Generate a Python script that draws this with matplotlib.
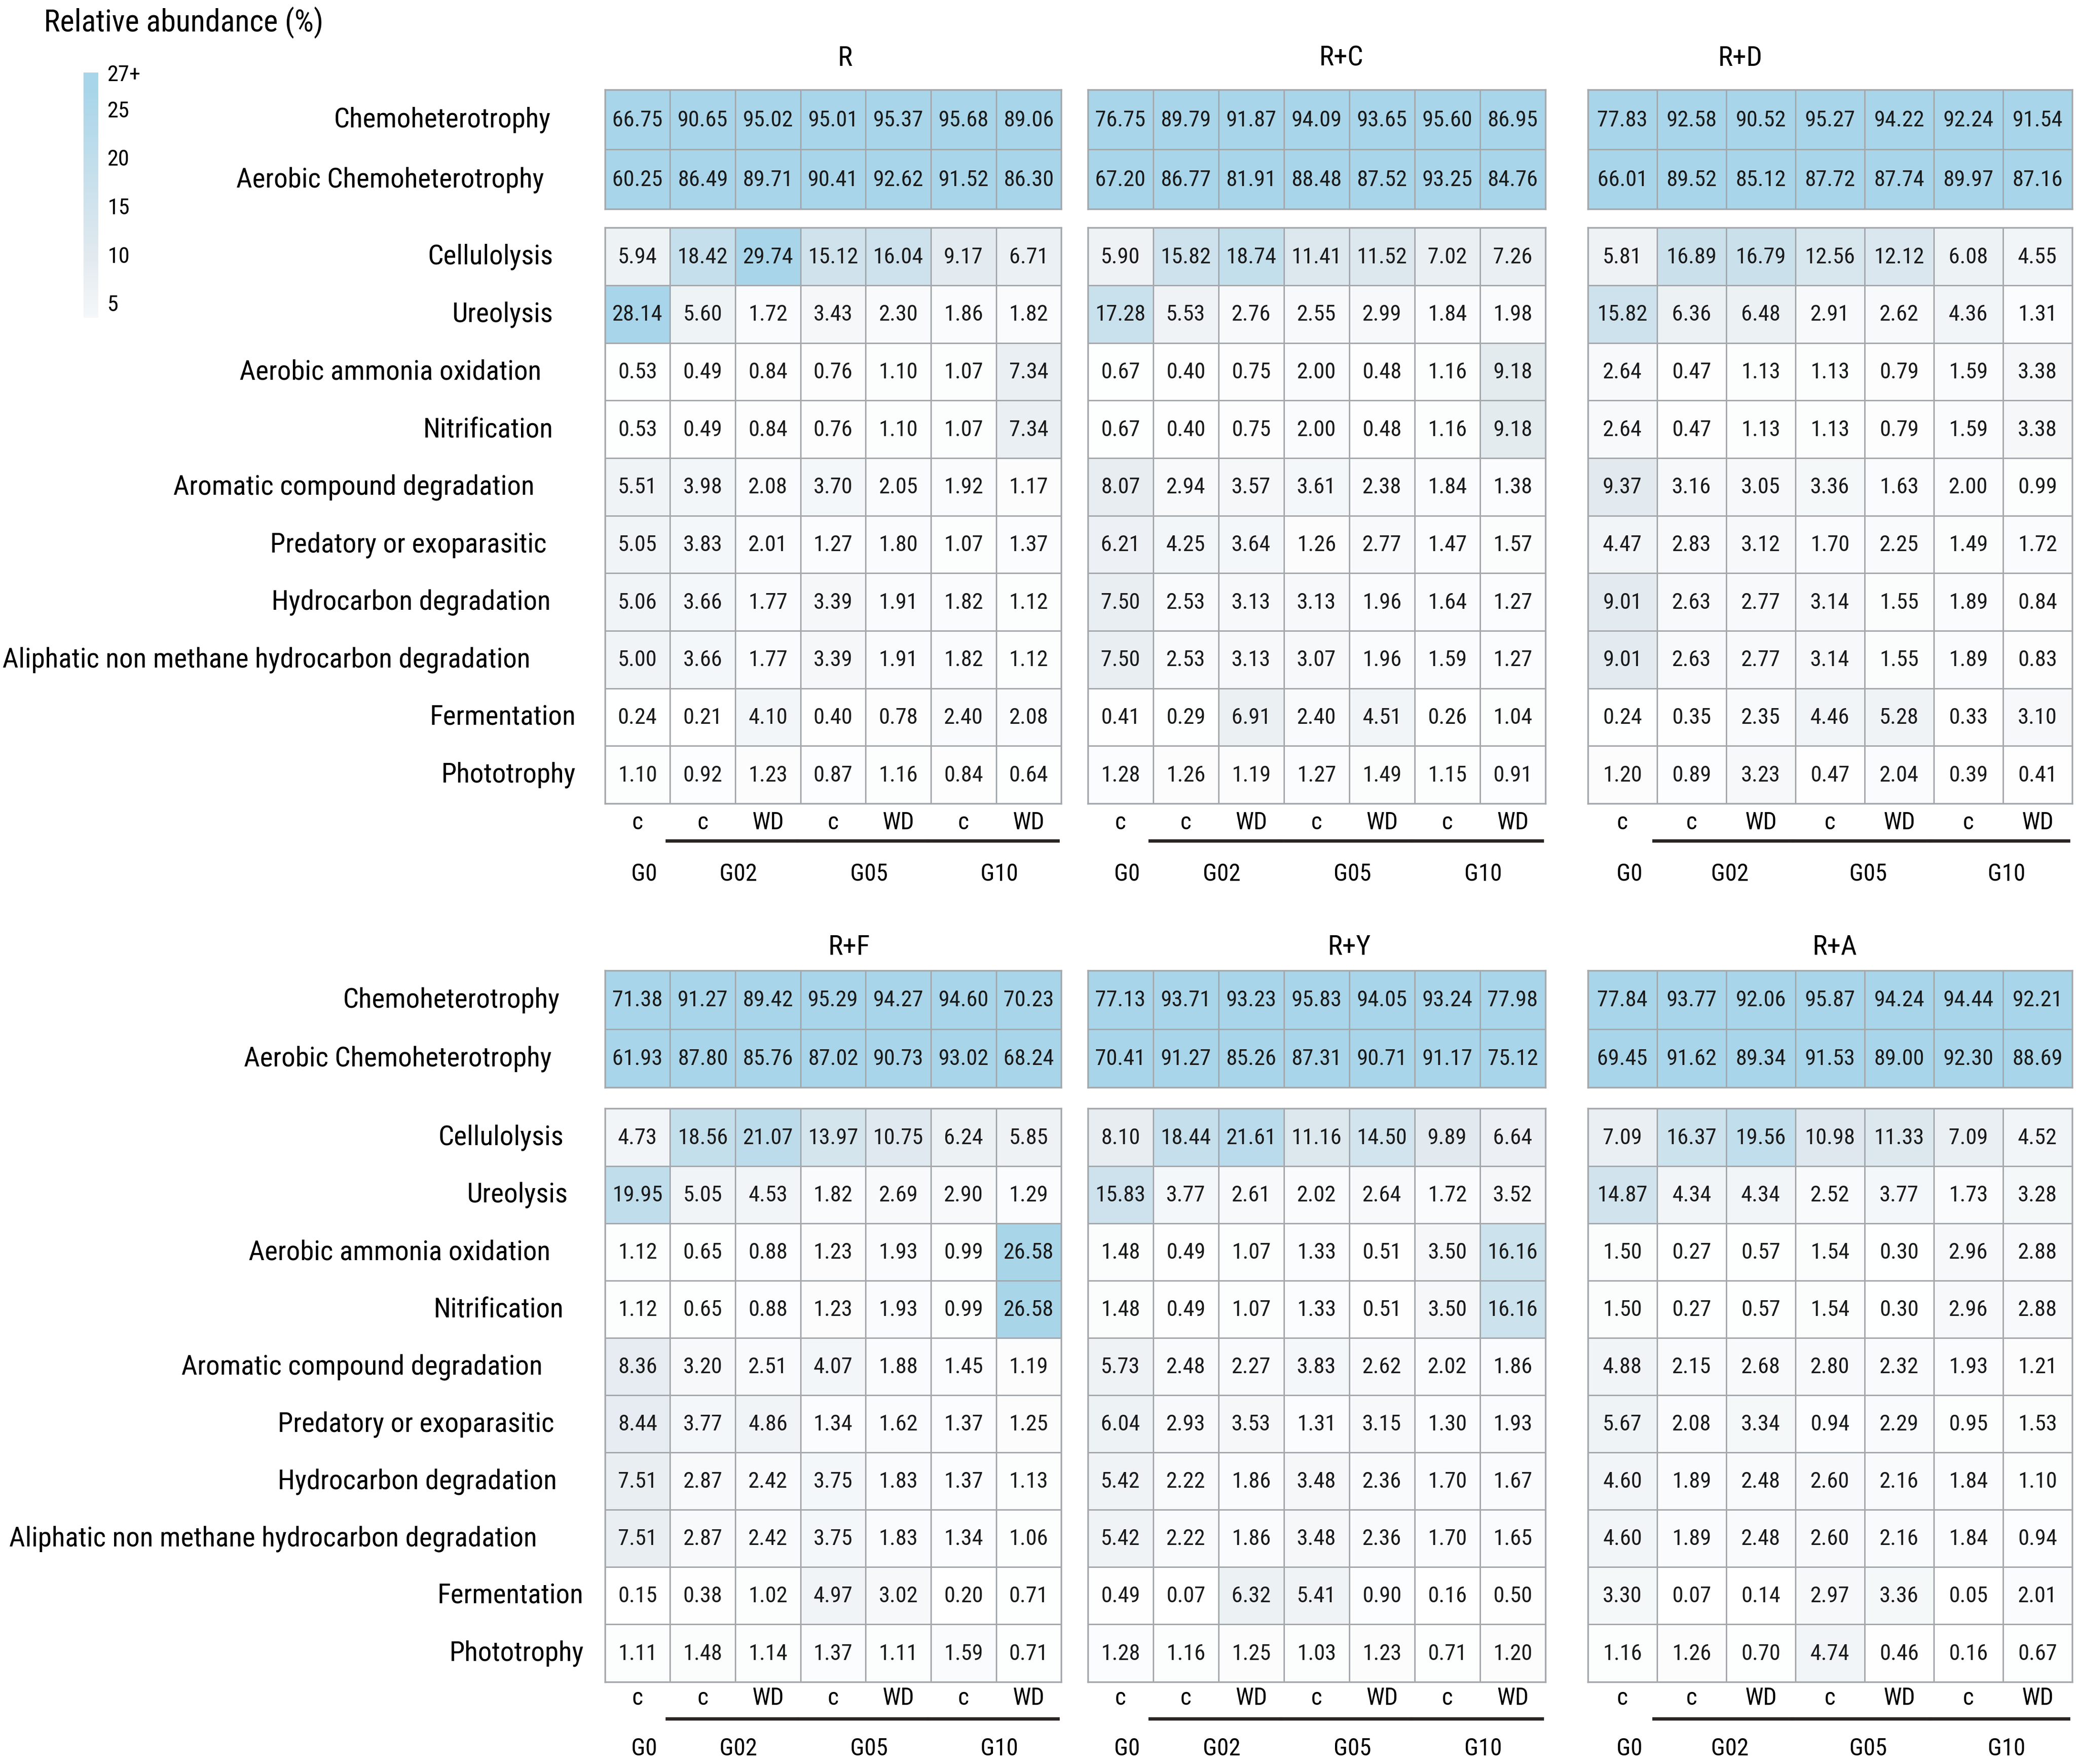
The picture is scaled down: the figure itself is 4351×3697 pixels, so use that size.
import numpy as np
import matplotlib
matplotlib.use('Agg')
import matplotlib.pyplot as plt
import matplotlib.transforms as mtransforms
from matplotlib.colors import LinearSegmentedColormap, Normalize
from matplotlib.cm import ScalarMappable
from matplotlib.lines import Line2D

# condensed sans like the original figure
plt.rcParams['font.family'] = ['Roboto Condensed', 'Liberation Sans', 'DejaVu Sans']
fs_cell, fs_label, fs_title, fs_axis, fs_cbar, fs_head = 34, 42, 42, 36, 34, 46

# ---- data ----
functions = ['Chemoheterotrophy', 'Aerobic Chemoheterotrophy',
             'Cellulolysis', 'Ureolysis', 'Aerobic ammonia oxidation', 'Nitrification',
             'Aromatic compound degradation', 'Predatory or exoparasitic',
             'Hydrocarbon degradation', 'Aliphatic non methane hydrocarbon degradation',
             'Fermentation', 'Phototrophy']
treatments = ['c', 'c', 'WD', 'c', 'WD', 'c', 'WD']
groups = ['G0', 'G02', 'G05', 'G10']
group_start = [0, 1, 3, 5]
panel_names = ['R', 'R+C', 'R+D', 'R+F', 'R+Y', 'R+A']

r_vals = [
    [66.75, 90.65, 95.02, 95.01, 95.37, 95.68, 89.06],
    [60.25, 86.49, 89.71, 90.41, 92.62, 91.52, 86.30],
    [5.94, 18.42, 29.74, 15.12, 16.04, 9.17, 6.71],
    [28.14, 5.60, 1.72, 3.43, 2.30, 1.86, 1.82],
    [0.53, 0.49, 0.84, 0.76, 1.10, 1.07, 7.34],
    [0.53, 0.49, 0.84, 0.76, 1.10, 1.07, 7.34],
    [5.51, 3.98, 2.08, 3.70, 2.05, 1.92, 1.17],
    [5.05, 3.83, 2.01, 1.27, 1.80, 1.07, 1.37],
    [5.06, 3.66, 1.77, 3.39, 1.91, 1.82, 1.12],
    [5.00, 3.66, 1.77, 3.39, 1.91, 1.82, 1.12],
    [0.24, 0.21, 4.10, 0.40, 0.78, 2.40, 2.08],
    [1.10, 0.92, 1.23, 0.87, 1.16, 0.84, 0.64],
]
rc_vals = [
    [76.75, 89.79, 91.87, 94.09, 93.65, 95.60, 86.95],
    [67.20, 86.77, 81.91, 88.48, 87.52, 93.25, 84.76],
    [5.90, 15.82, 18.74, 11.41, 11.52, 7.02, 7.26],
    [17.28, 5.53, 2.76, 2.55, 2.99, 1.84, 1.98],
    [0.67, 0.40, 0.75, 2.00, 0.48, 1.16, 9.18],
    [0.67, 0.40, 0.75, 2.00, 0.48, 1.16, 9.18],
    [8.07, 2.94, 3.57, 3.61, 2.38, 1.84, 1.38],
    [6.21, 4.25, 3.64, 1.26, 2.77, 1.47, 1.57],
    [7.50, 2.53, 3.13, 3.13, 1.96, 1.64, 1.27],
    [7.50, 2.53, 3.13, 3.07, 1.96, 1.59, 1.27],
    [0.41, 0.29, 6.91, 2.40, 4.51, 0.26, 1.04],
    [1.28, 1.26, 1.19, 1.27, 1.49, 1.15, 0.91],
]
rd_vals = [
    [77.83, 92.58, 90.52, 95.27, 94.22, 92.24, 91.54],
    [66.01, 89.52, 85.12, 87.72, 87.74, 89.97, 87.16],
    [5.81, 16.89, 16.79, 12.56, 12.12, 6.08, 4.55],
    [15.82, 6.36, 6.48, 2.91, 2.62, 4.36, 1.31],
    [2.64, 0.47, 1.13, 1.13, 0.79, 1.59, 3.38],
    [2.64, 0.47, 1.13, 1.13, 0.79, 1.59, 3.38],
    [9.37, 3.16, 3.05, 3.36, 1.63, 2.00, 0.99],
    [4.47, 2.83, 3.12, 1.70, 2.25, 1.49, 1.72],
    [9.01, 2.63, 2.77, 3.14, 1.55, 1.89, 0.84],
    [9.01, 2.63, 2.77, 3.14, 1.55, 1.89, 0.83],
    [0.24, 0.35, 2.35, 4.46, 5.28, 0.33, 3.10],
    [1.20, 0.89, 3.23, 0.47, 2.04, 0.39, 0.41],
]
rf_vals = [
    [71.38, 91.27, 89.42, 95.29, 94.27, 94.60, 70.23],
    [61.93, 87.80, 85.76, 87.02, 90.73, 93.02, 68.24],
    [4.73, 18.56, 21.07, 13.97, 10.75, 6.24, 5.85],
    [19.95, 5.05, 4.53, 1.82, 2.69, 2.90, 1.29],
    [1.12, 0.65, 0.88, 1.23, 1.93, 0.99, 26.58],
    [1.12, 0.65, 0.88, 1.23, 1.93, 0.99, 26.58],
    [8.36, 3.20, 2.51, 4.07, 1.88, 1.45, 1.19],
    [8.44, 3.77, 4.86, 1.34, 1.62, 1.37, 1.25],
    [7.51, 2.87, 2.42, 3.75, 1.83, 1.37, 1.13],
    [7.51, 2.87, 2.42, 3.75, 1.83, 1.34, 1.06],
    [0.15, 0.38, 1.02, 4.97, 3.02, 0.20, 0.71],
    [1.11, 1.48, 1.14, 1.37, 1.11, 1.59, 0.71],
]
ry_vals = [
    [77.13, 93.71, 93.23, 95.83, 94.05, 93.24, 77.98],
    [70.41, 91.27, 85.26, 87.31, 90.71, 91.17, 75.12],
    [8.10, 18.44, 21.61, 11.16, 14.50, 9.89, 6.64],
    [15.83, 3.77, 2.61, 2.02, 2.64, 1.72, 3.52],
    [1.48, 0.49, 1.07, 1.33, 0.51, 3.50, 16.16],
    [1.48, 0.49, 1.07, 1.33, 0.51, 3.50, 16.16],
    [5.73, 2.48, 2.27, 3.83, 2.62, 2.02, 1.86],
    [6.04, 2.93, 3.53, 1.31, 3.15, 1.30, 1.93],
    [5.42, 2.22, 1.86, 3.48, 2.36, 1.70, 1.67],
    [5.42, 2.22, 1.86, 3.48, 2.36, 1.70, 1.65],
    [0.49, 0.07, 6.32, 5.41, 0.90, 0.16, 0.50],
    [1.28, 1.16, 1.25, 1.03, 1.23, 0.71, 1.20],
]
ra_vals = [
    [77.84, 93.77, 92.06, 95.87, 94.24, 94.44, 92.21],
    [69.45, 91.62, 89.34, 91.53, 89.00, 92.30, 88.69],
    [7.09, 16.37, 19.56, 10.98, 11.33, 7.09, 4.52],
    [14.87, 4.34, 4.34, 2.52, 3.77, 1.73, 3.28],
    [1.50, 0.27, 0.57, 1.54, 0.30, 2.96, 2.88],
    [1.50, 0.27, 0.57, 1.54, 0.30, 2.96, 2.88],
    [4.88, 2.15, 2.68, 2.80, 2.32, 1.93, 1.21],
    [5.67, 2.08, 3.34, 0.94, 2.29, 0.95, 1.53],
    [4.60, 1.89, 2.48, 2.60, 2.16, 1.84, 1.10],
    [4.60, 1.89, 2.48, 2.60, 2.16, 1.84, 0.94],
    [3.30, 0.07, 0.14, 2.97, 3.36, 0.05, 2.01],
    [1.16, 1.26, 0.70, 4.74, 0.46, 0.16, 0.67],
]
panel_values = [r_vals, rc_vals, rd_vals, rf_vals, ry_vals, ra_vals]

cbar_ticks = [5, 10, 15, 20, 25]
cbar_labels = ['5', '10', '15', '20', '25']
cbar_top_label = '27+'

# ---- layout (positions in reference pixels, 1565 x 1330 scale) ----
W, H = 1565.0, 1330.0
col_x = [(456, 800), (820, 1165), (1197, 1562)]
top_block_y = [(68, 158), (732, 820)]
low_block_y = [(172, 606), (836, 1268)]
title_y = [44, 714]
title_x = [[637, 1011, 1312], [640, 1017, 1383]]
treat_y = [620, 1280]
line_y = [634, 1296]
group_y = [659, 1318]
label_right = [[415, 410, 417, 417, 408, 417, 403, 412, 415, 400, 434, 434],
               [422, 416, 425, 428, 415, 425, 409, 418, 420, 405, 440, 440]]

cmap = LinearSegmentedColormap.from_list(
    'abund', [(0.0, '#FFFFFF'), (0.35, '#E3EAEF'), (1.0, '#A8D5E9')])
norm = Normalize(vmin=0, vmax=27)
grid_color = '#A4A8AC'


def add_ax(x0, x1, y0, y1):
    return fig.add_axes([x0 / W, 1 - y1 / H, (x1 - x0) / W, (y1 - y0) / H])


def draw_block(ax, vals):
    vals = np.array(vals)
    ax.pcolormesh(vals, cmap=cmap, norm=norm, edgecolors=grid_color, linewidth=2)
    ax.set_xlim(0, vals.shape[1])
    ax.set_ylim(vals.shape[0], 0)
    ax.set_xticks([])
    ax.set_yticks([])
    for sp in ax.spines.values():
        sp.set_color(grid_color)
        sp.set_linewidth(2.5)
    for i in range(vals.shape[0]):
        for j in range(vals.shape[1]):
            ax.text(j + 0.5, i + 0.5, '{:.2f}'.format(vals[i, j]), ha='center', va='center',
                    fontsize=fs_cell, color='#1a1a1a')


fig = plt.figure(figsize=(43.51, 36.98), dpi=100)

for p, (name, vals) in enumerate(zip(panel_names, panel_values)):
    row, col = divmod(p, 3)
    x0, x1 = col_x[col]
    ax_top = add_ax(x0, x1, *top_block_y[row])
    ax_low = add_ax(x0, x1, *low_block_y[row])
    draw_block(ax_top, vals[:2])
    draw_block(ax_low, vals[2:])

    fig.text(title_x[row][col] / W, 1 - title_y[row] / H, name, ha='center', va='center',
             fontsize=fs_title)

    # row labels on the left panels only
    if col == 0:
        for i, fn in enumerate(functions):
            ax = ax_top if i < 2 else ax_low
            yi = i if i < 2 else i - 2
            tr = mtransforms.blended_transform_factory(fig.transFigure, ax.transData)
            fig.text(label_right[row][i] / W, yi + 0.5, fn, transform=tr,
                     ha='right', va='center', fontsize=fs_label)

    # treatment / group labels under the grid
    tr = mtransforms.blended_transform_factory(ax_low.transData, fig.transFigure)
    for j, t in enumerate(treatments):
        ax_low.text(j + 0.5, 1 - treat_y[row] / H, t, transform=tr, ha='center',
                    va='center', fontsize=fs_axis)
    for g, s in zip(groups, group_start):
        if s == 0:
            ax_low.text(0.6, 1 - group_y[row] / H, g, transform=tr, ha='center',
                        va='center', fontsize=fs_axis)
        else:
            ax_low.text(s + 1.05, 1 - group_y[row] / H, g, transform=tr, ha='center',
                        va='center', fontsize=fs_axis)
            ln = Line2D([s - 0.05, s + 1.95], [1 - line_y[row] / H] * 2, transform=tr,
                        color='#2a2522', linewidth=5, clip_on=False)
            ax_low.add_line(ln)

# colorbar: gradient from ~3.4 up past 27, the top end is labelled "27+"
cax = add_ax(63, 74, 55, 240)
cb_lo, cb_hi = 3.4, 28.7
cb = fig.colorbar(ScalarMappable(norm=norm, cmap=cmap), cax=cax,
                  boundaries=np.linspace(cb_lo, cb_hi, 240))
cb.outline.set_visible(False)
cb.set_ticks(cbar_ticks + [cb_hi])
cb.set_ticklabels(cbar_labels + [cbar_top_label])
cax.tick_params(length=0, labelsize=fs_cbar, pad=14)
fig.text(33 / W, 1 - 17 / H, 'Relative abundance (%)', ha='left', va='center', fontsize=fs_head)

fig.savefig('out.png', dpi=100)
